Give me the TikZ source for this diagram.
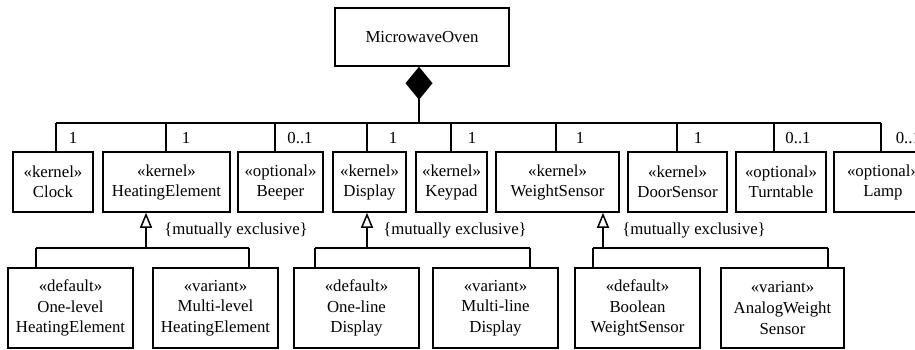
\documentclass[tikz,border=0pt]{standalone}
\usepackage{fontspec}
\setmainfont{Liberation Serif}
\usetikzlibrary{arrows.meta,shapes.geometric}
\begin{document}
\begin{tikzpicture}[x=1pt,y=-1pt,line width=1.5pt,
  cls/.style={draw,rectangle,inner sep=0pt,align=center,font=\fontsize{16.8}{20}\selectfont},
  topcls/.style={cls,minimum height=60pt},
  botcls/.style={cls,minimum height=80pt,minimum width=125pt,font=\fontsize{16.8}{20.7}\selectfont},
  lbl/.style={inner sep=0pt,font=\fontsize{16.8}{20}\selectfont},
  compo/.style={-{Diamond[length=33pt,width=27pt,line width=0pt]}},
  gen/.style={-{Triangle[open,length=15pt,width=12pt,line width=1.5pt]}}]
\useasboundingbox (0,0) rectangle (915,349);
\clip (0,0) rectangle (915,349);
% main class
\node[cls,minimum width=174pt,minimum height=58pt] (main) at (422,37) {MicrowaveOven};
% top-level parts
\node[topcls,minimum width=80pt]  (clock)  at (53,182)   {«kernel»\\Clock};
\node[topcls,minimum width=127pt] (heat)   at (166.5,182) {«kernel»\\HeatingElement};
\node[topcls,minimum width=85pt]  (beep)   at (280.5,182) {«optional»\\Beeper};
\node[topcls,minimum width=73pt]  (disp)   at (369.5,182) {«kernel»\\Display};
\node[topcls,minimum width=71pt]  (keyp)   at (451.5,182) {«kernel»\\Keypad};
\node[topcls,minimum width=123pt] (weight) at (557.5,182) {«kernel»\\WeightSensor};
\node[topcls,minimum width=99pt]  (door)   at (677.5,182) {«kernel»\\DoorSensor};
\node[topcls,minimum width=90pt]  (turn)   at (781,182)   {«optional»\\Turntable};
\node[topcls,minimum width=98pt]  (lamp)   at (883,182)   {«optional»\\Lamp};
% bus
\coordinate (bus) at (419,123);
\coordinate (t1) at (56,123);
\coordinate (t2) at (166,123);
\coordinate (t3) at (275,123);
\coordinate (t4) at (367,123);
\coordinate (t5) at (451,123);
\coordinate (t6) at (556,123);
\coordinate (t7) at (677,123);
\coordinate (t8) at (774,123);
\coordinate (t9) at (881,123);
\draw (t1) -- (t9);
\draw[compo] (bus) -- (bus |- main.south);
\draw (t1) -- (t1 |- clock.north);
\draw (t2) -- (t2 |- heat.north);
\draw (t3) -- (t3 |- beep.north);
\draw (t4) -- (t4 |- disp.north);
\draw (t5) -- (t5 |- keyp.north);
\draw (t6) -- (t6 |- weight.north);
\draw (t7) -- (t7 |- door.north);
\draw (t8) -- (t8 |- turn.north);
\draw (t9) -- (t9 |- lamp.north);
% multiplicities
\node[lbl] (m1) at (73,138) {1};
\node[lbl] (m2) at (186,138) {1};
\node[lbl] (m3) at (300,138) {0..1};
\node[lbl] (m4) at (393,138) {1};
\node[lbl] (m5) at (472,138) {1};
\node[lbl] (m6) at (580,138) {1};
\node[lbl] (m7) at (698,138) {1};
\node[lbl] (m8) at (798,138) {0..1};
\node[lbl,anchor=west] (m9) at (895,138) {0..1};
% variants
\node[botcls] (onelev)  at (70.5,308)  {«default»\\One-level\\HeatingElement};
\node[botcls] (multlev) at (215.5,308) {«variant»\\Multi-level\\HeatingElement};
\node[botcls] (oneline) at (356.5,308) {«default»\\One-line\\Display};
\node[botcls] (multline) at (495.5,308) {«variant»\\Multi-line\\Display};
\node[botcls] (bool)    at (637.5,308) {«default»\\Boolean\\WeightSensor};
\node[botcls,minimum width=123pt] (analog) at (782.5,308) {«variant»\\AnalogWeight\\Sensor};
% generalization 1
\coordinate (g1) at (146,248);
\coordinate (g1l) at (36,248);
\coordinate (g1r) at (249,248);
\draw (g1l) -- (g1r);
\draw (g1l) -- (g1l |- onelev.north);
\draw (g1r) -- (g1r |- multlev.north);
\draw[gen] (g1) -- (g1 |- heat.south);
% generalization 2
\coordinate (g2) at (367,248);
\coordinate (g2l) at (315,248);
\coordinate (g2r) at (530,248);
\draw (g2l) -- (g2r);
\draw (g2l) -- (g2l |- oneline.north);
\draw (g2r) -- (g2r |- multline.north);
\draw[gen] (g2) -- (g2 |- disp.south);
% generalization 3
\coordinate (g3) at (603,248);
\coordinate (g3l) at (593,248);
\coordinate (g3r) at (828,248);
\draw (g3l) -- (g3r);
\draw (g3l) -- (g3l |- bool.north);
\draw (g3r) -- (g3r |- analog.north);
\draw[gen] (g3) -- (g3 |- weight.south);
% constraints
\node[lbl] (c1) at (236,230) {\{mutually exclusive\}};
\node[lbl] (c2) at (455,230) {\{mutually exclusive\}};
\node[lbl] (c3) at (694,230) {\{mutually exclusive\}};
\end{tikzpicture}
\end{document}
